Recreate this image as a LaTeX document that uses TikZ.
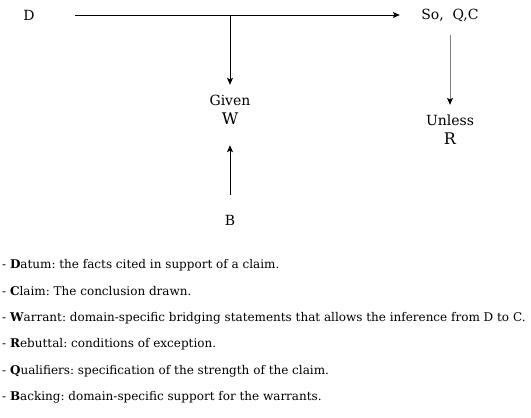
\documentclass[tikz,border=0pt]{standalone}
\usepackage{fontspec}
\setmainfont{DejaVu Serif}
\usetikzlibrary{arrows.meta,positioning}
\frenchspacing

\begin{document}
\begin{tikzpicture}[
x=1pt, y=-1pt,
lbl/.style={align=center, inner sep=0pt, font=\fontsize{14}{19}\selectfont},
big/.style={font=\fontsize{16}{19}\selectfont},
note/.style={anchor=west, inner sep=0pt, font=\fontsize{12}{15}\selectfont},
arrow/.style={-{Stealth[length=7pt,width=6pt,inset=1.5pt]}, line width=0.9pt}
]
\useasboundingbox (0,0) rectangle (531,418);
\node[lbl, minimum width=92pt, minimum height=20pt] (dat) at (29,15) {D};
\node[lbl, minimum width=100pt, minimum height=40pt] (clm) at (450,15) {So,\ \ Q,C};
\node[lbl, minimum width=60pt, minimum height=50pt] (war) at (230,110) {Given\\{\fontsize{16}{19}\selectfont W}};
\node[lbl, minimum width=60pt, minimum height=50pt] (bck) at (230,220) {B};
\node[lbl, minimum width=60pt, minimum height=50pt] (reb) at (450,130) {Unless\\{\fontsize{16}{19}\selectfont R}};
\coordinate (jn) at (230,15);

\draw[arrow] (dat.east) -- (clm.west);
\draw[arrow] (jn) -- (war.north);
\draw[arrow, shorten >=10pt] (bck.north) -- (war.south);
\draw[arrow, draw=gray, -{Stealth[length=7pt,width=6pt,inset=1.5pt,black]}] (clm.south) -- (reb.north);

% legend
\node[note] (ld) at (2,265) {- \textbf{D}atum: the facts cited in support of a claim.};
\node[note] (lc) at (2,291) {- \textbf{C}laim: The conclusion drawn.};
\node[note] (lw) at (2,318) {- \textbf{W}arrant: domain-specific bridging statements that allows the inference from D to C.};
\node[note] (lr) at (2,344) {- \textbf{R}ebuttal: conditions of exception.};
\node[note] (lq) at (2,371) {- \textbf{Q}ualifiers: specification of the strength of the claim.};
\node[note] (lb) at (2,397) {- \textbf{B}acking: domain-specific support for the warrants.};
\end{tikzpicture}
\end{document}
